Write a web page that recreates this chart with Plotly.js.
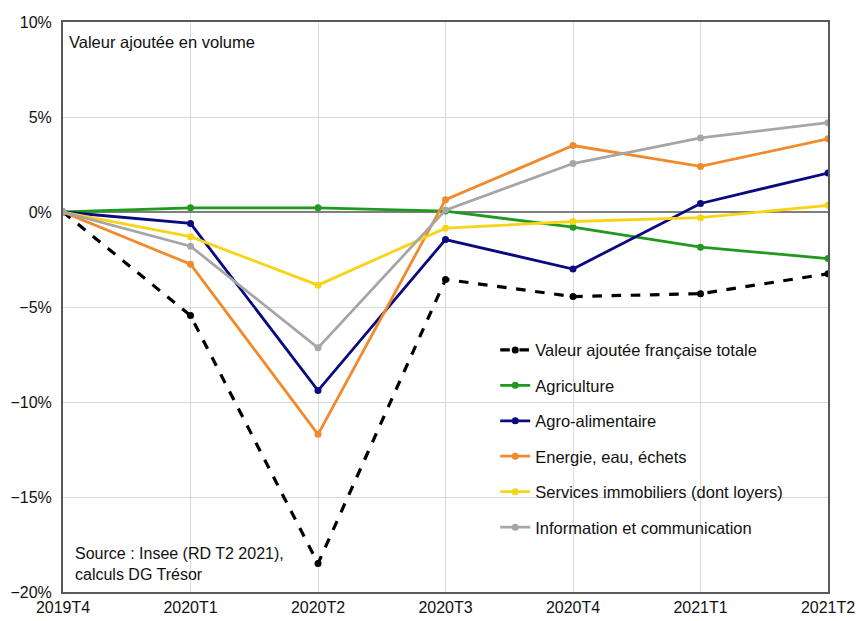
<!DOCTYPE html>
<html>
<head>
<meta charset="utf-8">
<script src="https://cdn.plot.ly/plotly-3.0.1.min.js"></script>
<style>
  body { margin: 0; background: #ffffff; }
  #chart { width: 857px; height: 621px; }
</style>
</head>
<body>
<div id="chart"></div>
<script>
var quarters = ['2019T4', '2020T1', '2020T2', '2020T3', '2020T4', '2021T1', '2021T2']
var total = [0, -5.45, -18.5, -3.55, -4.45, -4.3, -3.25]
var agriculture = [0, 0.22, 0.22, 0.05, -0.8, -1.85, -2.45]
var agro = [0, -0.6, -9.4, -1.45, -3.0, 0.45, 2.05]
var energie = [0, -2.75, -11.7, 0.65, 3.5, 2.4, 3.85]
var immo = [0, -1.3, -3.85, -0.85, -0.5, -0.3, 0.35]
var info = [0, -1.8, -7.15, 0.1, 2.55, 3.9, 4.7]

var names = [
    'Valeur ajoutée française totale',
    'Agriculture',
    'Agro-alimentaire',
    'Energie, eau, échets',
    'Services immobiliers (dont loyers)',
    'Information et communication'
]
var series = [total, agriculture, agro, energie, immo, info]
var colors = ['#000000', '#1f9a1f', '#0a0a80', '#f08a2c', '#f7d417', '#a6a6a6']

var font_family = '"Liberation Sans Narrow", "Arial Narrow", "Liberation Sans", Arial, sans-serif'

function make_trace(i) {
    return {
        type: 'scatter',
        mode: 'lines+markers',
        x: quarters,
        y: series[i].map(function (v) { return v / 100 }),
        name: names[i],
        legendgroup: 'g' + i,
        line: { color: colors[i], width: i == 0 ? 3.2 : 2.8, dash: i == 0 ? 'dash' : 'solid' },
        marker: { color: colors[i], size: 7 }
    }
}

var data = []
for (var i = 0; i < series.length; i++) data.push(make_trace(i))

var layout = {
    width: 857,
    height: 621,
    margin: { l: 63, r: 29, t: 22, b: 29 },
    paper_bgcolor: '#ffffff',
    plot_bgcolor: '#ffffff',
    font: { family: font_family, size: 16, color: '#111111' },
    showlegend: true,
    legend: {
        x: 0.565, y: 0.455, xanchor: 'left', yanchor: 'top',
        traceorder: 'grouped',
        tracegroupgap: 11,
        itemwidth: 30,
        bgcolor: 'rgba(255,255,255,0)',
        font: { family: font_family, size: 16.5, color: '#111111' }
    },
    xaxis: {
        type: 'category',
        range: [0, 6],
        showgrid: true,
        gridcolor: '#d9d9d9',
        gridwidth: 1,
        showline: true,
        linecolor: '#595959',
        linewidth: 2,
        mirror: true,
        ticks: '',
        tickfont: { family: font_family, size: 16, color: '#111111' },
        fixedrange: true
    },
    yaxis: {
        range: [-0.2, 0.1],
        dtick: 0.05,
        tickformat: '.0%',
        showgrid: true,
        gridcolor: '#d9d9d9',
        gridwidth: 1,
        zeroline: true,
        zerolinecolor: '#7f7f7f',
        zerolinewidth: 1.5,
        showline: true,
        linecolor: '#595959',
        linewidth: 2,
        mirror: true,
        ticks: '',
        ticklabelstandoff: 6,
        tickfont: { family: font_family, size: 16, color: '#111111' },
        fixedrange: true
    },
    annotations: [
        {
            text: 'Valeur ajoutée en volume',
            xref: 'paper', yref: 'paper', x: 0.005, y: 0.985,
            xanchor: 'left', yanchor: 'top', showarrow: false,
            font: { family: font_family, size: 16.5, color: '#111111' }
        },
        {
            text: 'Source : Insee (RD T2 2021),<br>calculs DG Trésor',
            xref: 'paper', yref: 'paper', x: 0.013, y: 0.012,
            xanchor: 'left', yanchor: 'bottom', align: 'left', showarrow: false,
            font: { family: font_family, size: 16, color: '#111111' }
        }
    ]
}

var config = { responsive: false, displayModeBar: false }

Plotly.newPlot('chart', data, layout, config)
</script>
</body>
</html>
